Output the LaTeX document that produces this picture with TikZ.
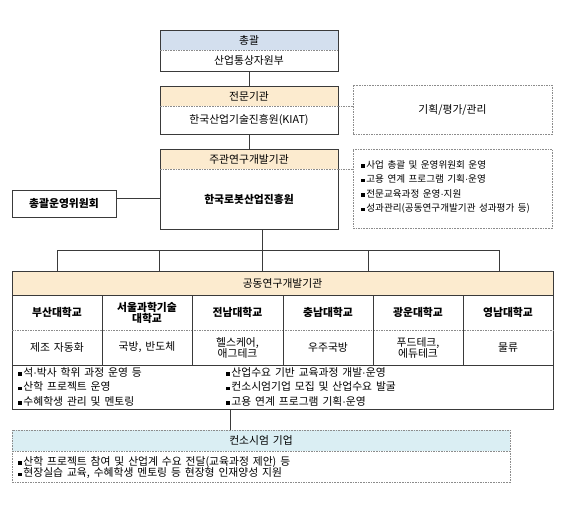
\documentclass[tikz,border=0pt]{standalone}
\usepackage{fontspec}
\setmainfont[WordSpace=1.6]{Noto Sans CJK KR}
\newfontfamily\latdot{Liberation Sans}
\usetikzlibrary{calc}
\definecolor{hblue}{HTML}{D3DFEE}
\definecolor{hpeach}{HTML}{FCEBCF}
\definecolor{hcyan}{HTML}{DAEEF3}
\definecolor{lncol}{HTML}{3A3A3A}
\definecolor{dgray}{HTML}{8C8C8C}
\newcommand{\bul}{\rule[0.5pt]{3.6pt}{3.6pt}\hspace{1.6pt}}
\newcommand{\md}{{\latdot ·}}
\begin{document}
\begin{tikzpicture}[x=1pt,y=-1pt,
  fillbox/.style={draw=none,inner sep=0,outer sep=0,anchor=north west},
  solidbox/.style={draw=lncol,line width=0.9pt,inner sep=0,outer sep=0,anchor=north west},
  dashbox/.style={draw=dgray,line width=0.7pt,dash pattern=on 1.6pt off 1pt,inner sep=0,outer sep=0,anchor=north west},
  divline/.style={dgray,line width=0.6pt,dash pattern=on 1.6pt off 1pt},
  conn/.style={lncol,line width=0.8pt},
  dconn/.style={dgray,line width=0.7pt,dash pattern=on 1.6pt off 1pt},
  txt/.style={inner sep=0,font=\fontsize{10.8}{12}\selectfont},
  btxt/.style={inner sep=0,font=\fontsize{10.8}{12}\selectfont\bfseries},
  stxt/.style={inner sep=0,font=\fontsize{9.6}{14.5}\selectfont,align=left},
  ltxt/.style={inner sep=0,font=\fontsize{10.8}{14.5}\selectfont,align=left,anchor=north west},
  tline/.style={lncol,line width=0.8pt}
]
\useasboundingbox (0,0) rectangle (567,509);
% ---------- A: 총괄
\node[fillbox,fill=hblue,minimum width=178pt,minimum height=20pt] (Ah) at (160,30) {};
\node[solidbox,minimum width=178pt,minimum height=41pt] (A) at (160,30) {};
\draw[divline] (Ah.south west) -- (Ah.south east);
\node[txt] (At) at (249,40) {총괄};
\node[txt] (Ab) at (249,60.5) {산업통상자원부};
% ---------- B: 전문기관
\node[fillbox,fill=hpeach,minimum width=178pt,minimum height=20pt] (Bh) at (160,86) {};
\node[solidbox,minimum width=178pt,minimum height=48pt] (B) at (160,86) {};
\draw[divline] (Bh.south west) -- (Bh.south east);
\node[txt] (Bt) at (249,96) {전문기관};
\node[txt] (Bb) at (249,120) {한국산업기술진흥원(KIAT)};
% ---------- C: 기획/평가/관리
\node[dashbox,minimum width=199pt,minimum height=49pt] (C) at (353,85) {};
\node[txt] (Ct) at (C.center) {기획/평가/관리};
% ---------- D: 주관연구개발기관
\node[fillbox,fill=hpeach,minimum width=178pt,minimum height=20pt] (Dh) at (160,149) {};
\node[solidbox,minimum width=178pt,minimum height=80pt] (D) at (160,149) {};
\draw[divline] (Dh.south west) -- (Dh.south east);
\node[txt] (Dt) at (249,159) {주관연구개발기관};
\node[btxt] (Db) at (249,199.5) {한국로봇산업진흥원};
% ---------- E: bullets
\node[dashbox,minimum width=199pt,minimum height=79pt] (E) at (353,149) {};
\node[stxt,anchor=north west] (Et) at (361,160) {\bul 사업 총괄 및 운영위원회 운영\\\bul 고용 연계 프로그램 기획\md 운영\\\bul 전문교육과정 운영\md 지원\\\bul 성과관리(공동연구개발기관 성과평가 등)};
% ---------- F: 총괄운영위원회
\node[solidbox,minimum width=104pt,minimum height=27pt] (F) at (12,190) {};
\node[btxt] (Ft) at (F.center) {총괄운영위원회};
% ---------- connectors upper
\draw[conn] (A.south -| Ah.south) -- (B.north -| Bh.south);
\draw[conn] (B.south) -- (D.north);
\draw[dconn] (Bh.south east) -- (Bh.south east -| C.west);
\draw[dconn] (Dh.south east) -- (Dh.south east -| E.west);
\coordinate (Fe) at ($(F.north east)!0.3!(F.south east)$);
\draw[conn] (Fe) -- (Fe -| D.west);
% ---------- G: 공동연구개발기관
\node[fillbox,fill=hpeach,minimum width=541pt,minimum height=24pt] (Gh) at (12,271) {};
\node[solidbox,minimum width=541pt,minimum height=138pt] (G) at (12,271) {};
\node[txt] (Gt) at (282.5,283) {공동연구개발기관};
\draw[tline] (Gh.south west) -- (Gh.south east);
\coordinate (Gdl) at (12,330);
\coordinate (Gdr) at (553,330);
\draw[divline] (Gdl) -- (Gdr);
\coordinate (Gml) at (12,365);
\coordinate (Gmr) at (553,365);
\draw[tline] (Gml) -- (Gmr);
\foreach \xx in {102,192,283,373,463} {
  \draw[tline] (\xx,295) -- (\xx,365);
}
\node[btxt] (u1) at (57,312.5) {부산대학교};
\node[btxt,align=center,font=\fontsize{10.8}{11}\selectfont\bfseries] (u2) at (147,312.5) {서울과학기술\\대학교};
\node[btxt] (u3) at (237.5,312.5) {전남대학교};
\node[btxt] (u4) at (328,312.5) {충남대학교};
\node[btxt] (u5) at (418,312.5) {광운대학교};
\node[btxt] (u6) at (508,312.5) {영남대학교};
\node[txt] (f1) at (57,347.5) {제조 자동화};
\node[txt] (f2) at (147,347.5) {국방, 반도체};
\node[txt,align=center,font=\fontsize{10.8}{11}\selectfont] (f3) at (237.5,347.5) {헬스케어,\\애그테크};
\node[txt] (f4) at (328,347.5) {우주국방};
\node[txt,align=center,font=\fontsize{10.8}{11}\selectfont] (f5) at (418,347.5) {푸드테크,\\에듀테크};
\node[txt] (f6) at (508,347.5) {물류};
\node[ltxt] (gl) at (18,367) {\bul 석\md 박사 학위 과정 운영 등\\\bul 산학 프로젝트 운영\\\bul 수혜학생 관리 및 멘토링};
\node[ltxt] (gr) at (226,367) {\bul 산업수요 기반 교육과정 개발\md 운영\\\bul 컨소시엄기업 모집 및 산업수요 발굴\\\bul 고용 연계 프로그램 기획\md 운영};
% ---------- trunk & bus
\coordinate (bus) at (262,250);
\draw[conn] (D.south -| bus) -- (bus);
\draw[conn] (57,250) -- (499,250);
\foreach \xx in {57,159,262,368,499} {
  \draw[conn] (\xx,250) -- (\xx,271);
}
% ---------- H: 컨소시엄 기업
\node[fillbox,fill=hcyan,minimum width=498pt,minimum height=21pt] (Hh) at (12,430) {};
\node[dashbox,minimum width=498pt,minimum height=52pt] (H) at (12,430) {};
\draw[divline] (Hh.south west) -- (Hh.south east);
\node[txt] (Ht) at (261,440.5) {컨소시엄 기업};
\node[ltxt,font=\fontsize{10.8}{11.5}\selectfont] (Hb) at (18,456) {\bul 산학 프로젝트 참여 및 산업계 수요 전달(교육과정 제안) 등\\\bul 현장실습 교육, 수혜학생 멘토링 등 현장형 인재양성 지원};
\draw[conn] (G.south -| 230,0) -- (H.north -| 230,0);
\end{tikzpicture}
\end{document}
